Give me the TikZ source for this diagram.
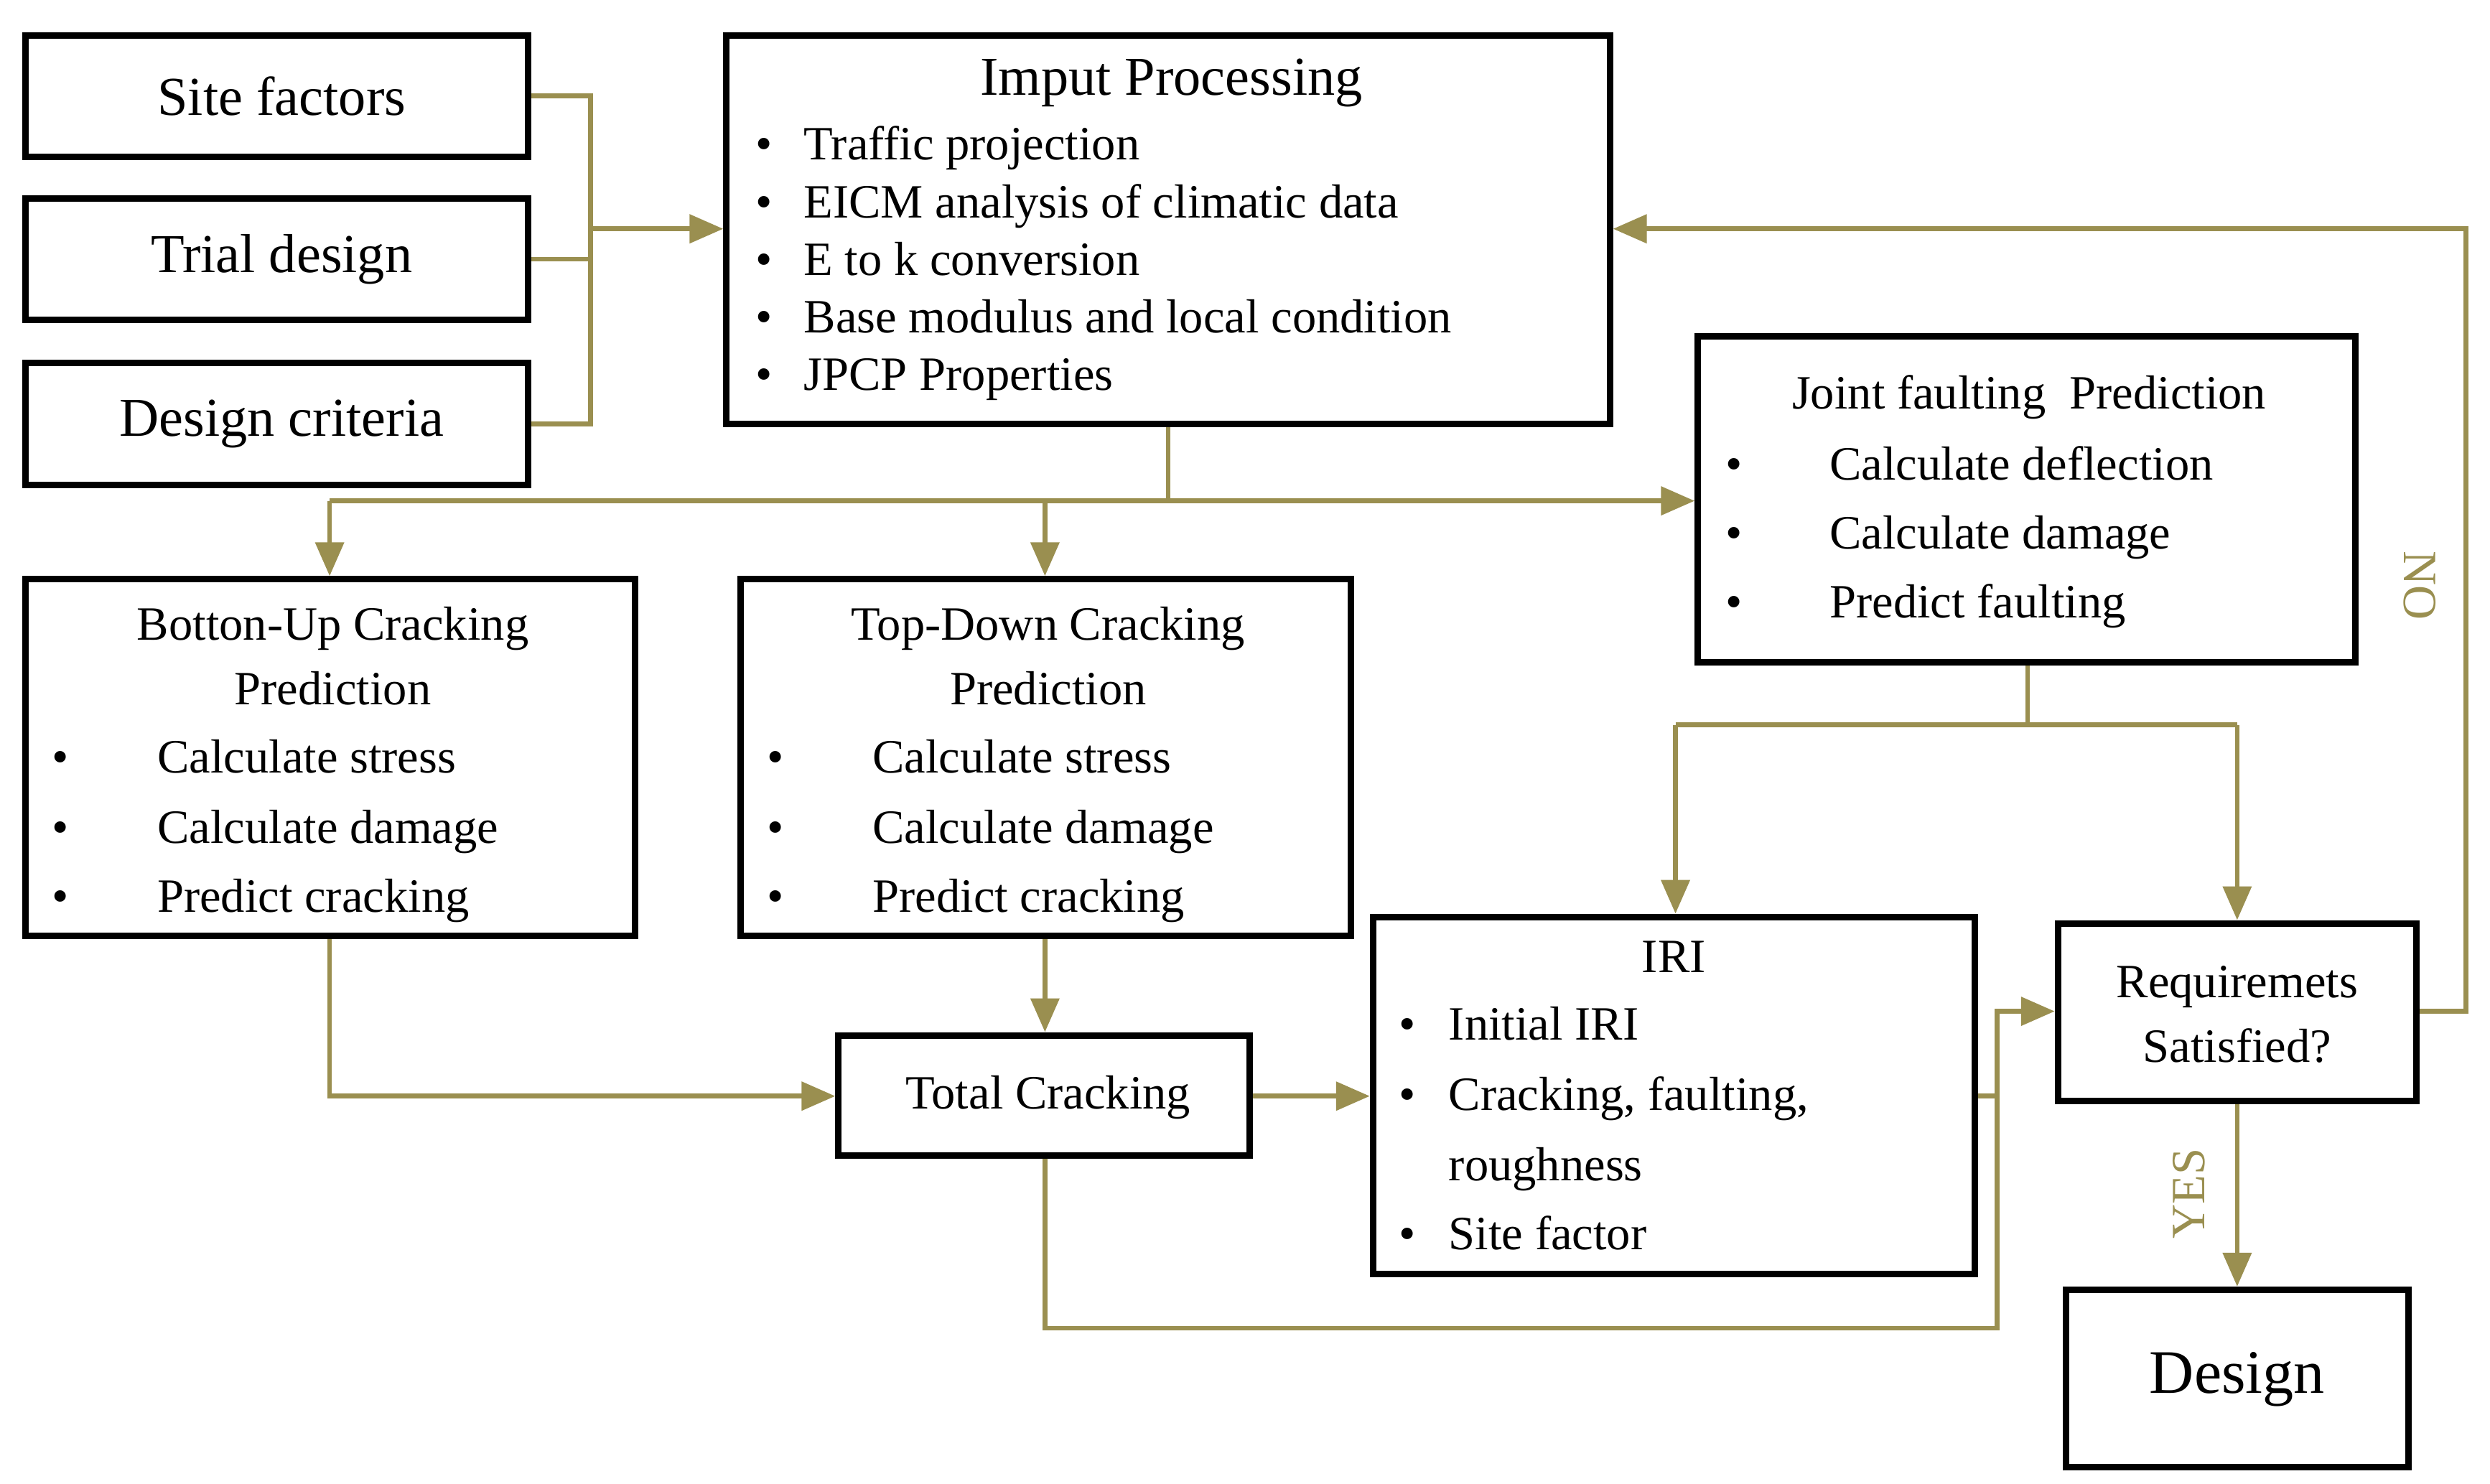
\documentclass[tikz,border=0pt]{standalone}
\usepackage{fontspec}
\setmainfont{Liberation Serif}
\usetikzlibrary{fit,arrows.meta}
\definecolor{ol}{HTML}{9A8F50}
\begin{document}
\begin{tikzpicture}[x=0.02cm,y=-0.02cm,
 box/.style={draw,line width=2.3pt,inner sep=0pt},
 ln/.style={draw=ol,line width=1.7pt},
 ar/.style={ln,-{Triangle[length=12pt,width=10pt]}},
 t/.style={font=\fontsize{17}{20}\selectfont,inner sep=0pt},
 tl/.style={t,anchor=base west},
 big/.style={font=\fontsize{19.5}{23}\selectfont,inner sep=0pt}]
\useasboundingbox (0,0) rectangle (1556,927);
\fill[white] (0,0) rectangle (1556,927);
% boxes
\node[box,fit={(16,22)(330,98)}] (site) {};
\node[box,fit={(16,124)(330,200)}] (trial) {};
\node[box,fit={(16,227)(330,303)}] (crit) {};
\node[box,fit={(454,22)(1006,265)}] (inp) {};
\node[box,fit={(1061,210)(1472,414)}] (jf) {};
\node[box,fit={(16,362)(397,585)}] (bu) {};
\node[box,fit={(463,362)(844,585)}] (td) {};
\node[box,fit={(524,647)(781,722)}] (tc) {};
\node[box,fit={(858,573)(1234,796)}] (iri) {};
\node[box,fit={(1286,577)(1510,688)}] (req) {};
\node[box,fit={(1291,806)(1505,917)}] (des) {};
% texts
\node[big] at (176,60) {Site factors};
\node[big] at (176,162) {Trial design};
\node[big] at (176,265) {Design criteria};
\node[big] at (732,52) {Imput Processing};
\foreach \y/\s in {100/Traffic projection,136/EICM analysis of climatic data,172/E to k conversion,208/Base modulus and local condition,244/JPCP Properties}{
 \node[tl] at (472,\y) {\textbullet};\node[tl] at (502,\y) {\s};}
\node[t] at (1268,248) {Joint faulting\ \ Prediction};
\foreach \y/\s in {300/Calculate deflection,343/Calculate damage,386/Predict faulting}{
 \node[tl] at (1078,\y) {\textbullet};\node[tl] at (1143,\y) {\s};}
\node[t,align=center] at (208,410) {Botton-Up Cracking\\[3pt]Prediction};
\node[t,align=center] at (655,410) {Top-Down Cracking\\[3pt]Prediction};
\foreach \x/\xx in {32/98,479/545}{
\foreach \y/\s in {483/Calculate stress,527/Calculate damage,570/Predict cracking}{
 \node[tl] at (\x,\y) {\textbullet};\node[tl] at (\xx,\y) {\s};}}
\node[t] at (655,686) {Total Cracking};
\node[t] at (1046,598) {IRI};
\node[tl] at (874,650) {\textbullet}; \node[tl] at (905,650) {Initial IRI};
\node[tl] at (874,694) {\textbullet}; \node[tl] at (905,694) {Cracking, faulting,};
\node[tl] at (905,738) {roughness};
\node[tl] at (874,781) {\textbullet}; \node[tl] at (905,781) {Site factor};
\node[t,align=center] at (1398,634) {Requiremets\\[3pt]Satisfied?};
\node[font=\fontsize{22}{26}\selectfont,inner sep=0pt] at (1398,862) {Design};
% connectors
\draw[ln] (site.east|-0,60) -- (369,60) -- (369,265) -- (crit.east|-0,265);
\draw[ln] (trial.east|-0,162) -- (369,162);
\draw[ar] (369,143) -- (inp.west|-0,143);
\draw[ln] (inp.south-|730,0) -- (730,313);
\draw[ln] (206,313) -- (730,313);
\draw[ar] (730,313) -- (jf.west|-0,313);
\draw[ar] (206,313) -- (bu.north-|206,0);
\draw[ar] (653,313) -- (td.north-|653,0);
\draw[ln] (jf.south-|1267,0) -- (1267,453);
\draw[ln] (1047,453) -- (1398,453);
\draw[ar] (1047,453) -- (iri.north-|1047,0);
\draw[ar] (1398,453) -- (req.north-|1398,0);
\draw[ar] (bu.south-|206,0) -- (206,685) -- (tc.west|-0,685);
\draw[ar] (td.south-|653,0) -- (tc.north-|653,0);
\draw[ar] (tc.east|-0,685) -- (iri.west|-0,685);
\draw[ln] (iri.east|-0,685) -- (1248,685);
\draw[ar] (1248,685) -- (1248,632) -- (req.west|-0,632);
\draw[ln] (tc.south-|653,0) -- (653,830) -- (1248,830) -- (1248,685);
\draw[ar] (req.east|-0,632) -- (1541,632) -- (1541,143) -- (inp.east|-0,143);
\draw[ar] (req.south-|1398,0) -- (des.north-|1398,0);
\node[t,text=ol,rotate=-90] at (1512,366) {NO};
\node[t,text=ol,rotate=90] at (1368,746) {YES};
\end{tikzpicture}
\end{document}
